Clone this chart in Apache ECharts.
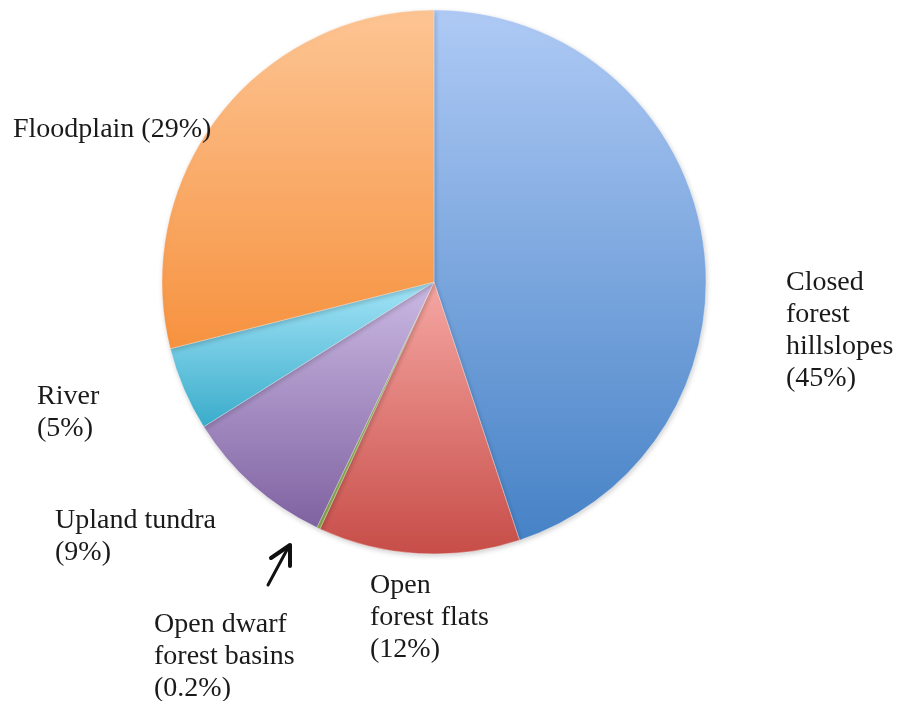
<!DOCTYPE html>
<html>
<head>
<meta charset="utf-8">
<style>
  html, body { margin: 0; padding: 0; background: #ffffff; }
  #chart { width: 898px; height: 701px; }
</style>
<script src="https://cdn.jsdelivr.net/npm/echarts@6/dist/echarts.min.js"></script>
</head>
<body>
<div id="chart"></div>
<script>
// Land-cover classes, clockwise from 12 o'clock
const categories = [
  'Closed\nforest\nhillslopes',
  'Open\nforest flats',
  'Open dwarf\nforest basins',
  'Upland tundra',
  'River',
  'Floodplain'
];
// Share of area, percent
const shares = [45, 12, 0.2, 9, 5, 29];
// Separator between class name and its percentage in the label
const labelSeparators = ['\n', '\n', '\n', '\n', '\n', ' '];

// Fill gradients (top colour, bottom colour) for each slice
const fills = [
  ['#afcaf5', '#4682c6'],
  ['#f6a7a3', '#c74d48'],
  ['#b9d37a', '#8fb24c'],
  ['#cbb9e3', '#7f62a1'],
  ['#a3e4f7', '#3aaccb'],
  ['#fdc594', '#f6923f']
];
// Label anchor points (left, top) for each class
const labelAnchors = [
  [786, 267],
  [370, 570],
  [154, 609],
  [55, 505],
  [37, 381],
  [13, 114]
];

const chart = echarts.init(document.getElementById('chart'), null, { renderer: 'canvas' });

const data = categories.map((name, i) => ({
  name: name,
  value: shares[i],
  itemStyle: {
    color: new echarts.graphic.LinearGradient(0, 0, 0, 1, [
      { offset: 0, color: fills[i][0] },
      { offset: 1, color: fills[i][1] }
    ])
  }
}));

chart.setOption({
  backgroundColor: '#ffffff',
  animation: false,
  series: [{
    type: 'pie',
    center: [434, 282],
    radius: [0, 272],
    startAngle: 90,
    clockwise: true,
    avoidLabelOverlap: false,
    data: data,
    itemStyle: {
      borderColor: 'rgba(255,255,255,0.55)',
      borderWidth: 0.6,
      shadowColor: 'rgba(0,0,0,0.18)',
      shadowBlur: 5,
      shadowOffsetX: 1,
      shadowOffsetY: 2
    },
    label: {
      show: true,
      formatter: p => p.name + labelSeparators[p.dataIndex] + '(' + p.value + '%)',
      fontFamily: '"Liberation Serif", serif',
      fontSize: 28,
      lineHeight: 32,
      color: '#1a1a1a'
    },
    labelLine: { show: false },
    labelLayout: params => ({
      x: labelAnchors[params.dataIndex][0],
      y: labelAnchors[params.dataIndex][1],
      align: 'left',
      verticalAlign: 'top',
      hideOverlap: false
    }),
    emphasis: { disabled: true }
  }],
  graphic: [
    // Hand-drawn pointer to the thin slice
    {
      type: 'polyline',
      shape: { points: [[268, 585], [289, 546]] },
      style: { stroke: '#111', lineWidth: 3, lineCap: 'round', fill: null }
    },
    {
      type: 'polyline',
      shape: { points: [[271, 558], [290, 545], [290, 566]] },
      style: { stroke: '#111', lineWidth: 4, lineCap: 'round', lineJoin: 'round', fill: null }
    }
  ]
});
</script>
</body>
</html>
